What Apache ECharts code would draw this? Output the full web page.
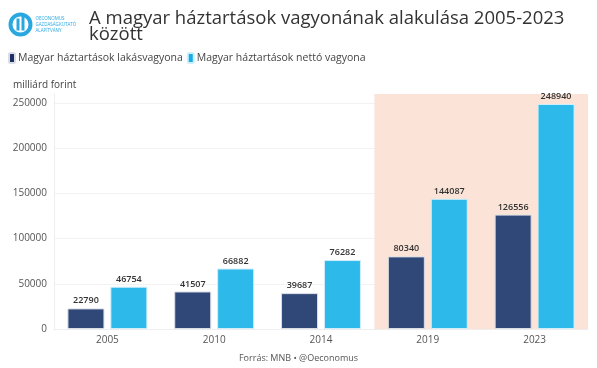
<!DOCTYPE html>
<html><head><meta charset="utf-8">
<script src="https://cdn.jsdelivr.net/npm/echarts@6/dist/echarts.min.js"></script>
<style>html,body{margin:0;padding:0;background:#fff}#c{width:597px;height:368px}</style>
</head><body><div id="c"></div>
<script>
const categories = ['2005', '2010', '2014', '2019', '2023'];
const lakasvagyon = [22790, 41507, 39687, 80340, 126556];
const nettoVagyon = [46754, 66882, 76282, 144087, 248940];
const yTicks = [0, 50000, 100000, 150000, 200000, 250000];
const highlightFrom = '2019', highlightTo = '2023';

const F = '"Open Sans", sans-serif';
const chart = echarts.init(document.getElementById('c'));
const labelCfg = {show: true, position: 'top', distance: 3, fontFamily: F, fontSize: 9, fontWeight: 600, color: '#333'};
chart.setOption({
  animation: false,
  title: [
    {text: 'A magyar háztartások vagyonának alakulása 2005-2023\nközött', left: 84, top: 6,
     textStyle: {fontFamily: F, fontSize: 18.5, fontWeight: 400, color: '#333', lineHeight: 15.5}},
    {text: 'milliárd forint', left: 8, top: 75, textStyle: {fontFamily: F, fontSize: 10, fontWeight: 400, color: '#444'}},
    {text: 'Forrás: MNB • @Oeconomus', left: 'center', top: 349, textStyle: {fontFamily: F, fontSize: 9, fontWeight: 400, color: '#555'}}
  ],
  graphic: [
    {type: 'group', left: 8, top: 12, children: [
      {type: 'circle', shape: {cx: 11, cy: 11, r: 10}, style: {fill: 'none', stroke: '#29a8e0', lineWidth: 4}},
      {type: 'rect', shape: {x: 7, y: 5, width: 3, height: 12}, style: {fill: '#29a8e0'}},
      {type: 'rect', shape: {x: 12, y: 1, width: 3, height: 16}, style: {fill: '#29a8e0'}},
      {type: 'text', style: {x: 26, y: 2, text: 'OECONOMUS\nGAZDASÁGKUTATÓ\nALAPÍTVÁNY', fontFamily: F, fontSize: 4.5, lineHeight: 6, fill: '#29a8e0'}}
    ]}
  ],
  legend: {left: 3, top: 47, itemWidth: 6, itemHeight: 10, itemGap: 4,
    textStyle: {fontFamily: F, fontSize: 10.5, color: '#444', padding: [0, 0, 0, -2]},
    data: [{name: 'Magyar háztartások lakásvagyona', itemStyle: {color: '#1c2e63'}},
           {name: 'Magyar háztartások nettó vagyona', itemStyle: {color: '#16aee8'}}]},
  grid: {left: 54, right: 9, top: 94, bottom: 39},
  xAxis: {type: 'category', data: categories,
    axisLine: {show: true, lineStyle: {color: '#eee'}}, axisTick: {show: false},
    axisLabel: {fontFamily: F, fontSize: 10, color: '#555', margin: 6}},
  yAxis: {type: 'value', min: 0, max: 260000, interval: 50000,
    axisLine: {show: true, lineStyle: {color: '#eee'}},
    axisLabel: {fontFamily: F, fontSize: 10, color: '#555', margin: 7,
      formatter: v => yTicks.includes(v) ? String(v) : ''},
    splitLine: {show: true, showMaxLine: false, lineStyle: {color: '#f2f2f2'}}},
  series: [
    {name: 'Magyar háztartások lakásvagyona', type: 'bar', data: lakasvagyon, barWidth: 37, barGap: '16%',
     itemStyle: {color: '#2f4878', borderColor: '#d9dde6', borderWidth: 1}, label: labelCfg,
     markArea: {silent: true, itemStyle: {color: '#fbe4d7'},
       data: [[{xAxis: highlightFrom, yAxis: 0}, {xAxis: highlightTo, yAxis: 260000}]]}},
    {name: 'Magyar háztartások nettó vagyona', type: 'bar', data: nettoVagyon, barWidth: 37,
     itemStyle: {color: '#2db9ea', borderColor: '#cfeefa', borderWidth: 1}, label: labelCfg}
  ]
});
</script></body></html>
